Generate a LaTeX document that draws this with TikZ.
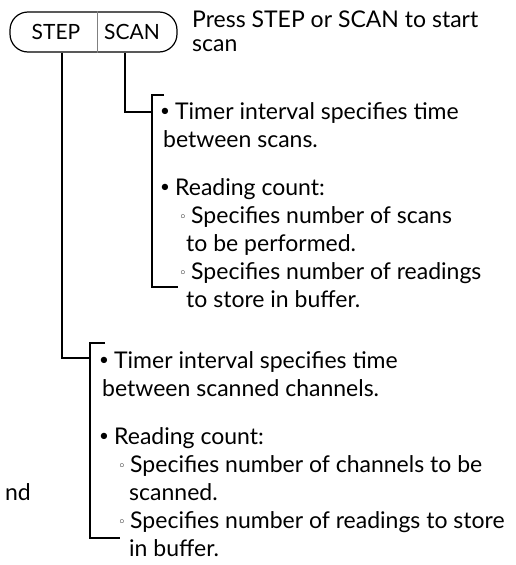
\documentclass[tikz,border=0pt]{standalone}
\usepackage{fontspec}
\setmainfont{Lato}
\newfontfamily\symfont{DejaVu Sans}
\begin{document}
\begin{tikzpicture}[x=1pt,y=-1pt,
  txt/.style={anchor=base west, inner sep=0pt, font=\fontsize{23}{26}\selectfont},
  bul/.style={anchor=base, inner sep=0pt, yshift=3pt, font=\fontsize{17}{19}\selectfont},
  sbul/.style={anchor=base, inner sep=0pt, yshift=1.5pt, font=\fontsize{13}{15}\symfont},
  ln/.style={line width=1.4pt},
  btn/.style={inner sep=0pt, font=\fontsize{21}{24}\selectfont}]
\useasboundingbox (0,0) rectangle (516,565);
% pill button
\node[draw, line width=1.2pt, rounded corners=18, minimum width=167pt, minimum height=40pt, inner sep=0pt] (pill) at (93.5,32) {};
\node[btn] (stepl) at (56,32) {STEP};
\node[btn] (scanl) at (132,32) {SCAN};
\draw[line width=0.7pt, gray] (pill.north -| 97,0) -- (pill.south -| 97,0);
\node[txt] (press1) at (192,27) {Press STEP or SCAN to start};
\node[txt] (press2) at (192,51) {scan};
% connectors
\coordinate (ujoin) at (125,112);
\coordinate (ljoin) at (62,358);
\coordinate (ubt) at (152,95);
\coordinate (ubb) at (152,287);
\coordinate (lbt) at (90,343);
\coordinate (lbb) at (90,538);
\draw[ln] (pill.south -| ujoin) -- (ujoin) -- (ujoin -| ubt);
\draw[ln] (pill.south -| ljoin) -- (ljoin) -- (ljoin -| lbt);
\draw[ln] ([xshift=12pt]ubt) -- (ubt) -- (ubb) -- ([xshift=26pt]ubb);
\draw[ln] ([xshift=15pt]lbt) -- (lbt) -- (lbb) -- ([xshift=30pt]lbb);
% upper group
\node[bul] (ub1) at (165,119) {•};
\node[txt] (u1) at (175,119) {Timer interval specifies time};
\node[txt] (u2) at (163,147) {between scans.};
\node[bul] (ub2) at (165,195) {•};
\node[txt] (u3) at (175,195) {Reading count:};
\node[sbul] (us1) at (183,223) {◦};
\node[txt] (u4) at (191,223) {Specifies number of scans};
\node[txt] (u5) at (186,251) {to be performed.};
\node[sbul] (us2) at (183,279) {◦};
\node[txt] (u6) at (191,279) {Specifies number of readings};
\node[txt] (u7) at (186,307) {to store in buffer.};
% lower group
\node[bul] (lb1) at (104,368) {•};
\node[txt] (l1) at (114,368) {Timer interval specifies time};
\node[txt] (l2) at (102,396) {between scanned channels.};
\node[bul] (lb2) at (104,444) {•};
\node[txt] (l3) at (114,444) {Reading count:};
\node[sbul] (ls1) at (122,472) {◦};
\node[txt] (l4) at (130,472) {Specifies number of channels to be};
\node[txt] (l5) at (129,500) {scanned.};
\node[sbul] (ls2) at (122,528) {◦};
\node[txt] (l6) at (130,528) {Specifies number of readings to store};
\node[txt] (l7) at (129,556) {in buffer.};
% cut-off word at left edge
\node[txt, anchor=base east] (frag) at (31,500) {nd};
\end{tikzpicture}
\end{document}
